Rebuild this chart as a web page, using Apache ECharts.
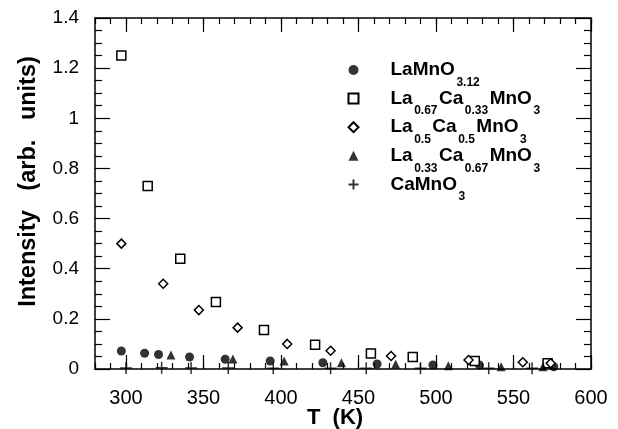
<!DOCTYPE html>
<html>
<head>
<meta charset="utf-8">
<script src="https://cdn.jsdelivr.net/npm/echarts@6/dist/echarts.min.js"></script>
<style>
html,body{margin:0;padding:0;background:#fff;}
#chart{width:618px;height:429px;}
</style>
</head>
<body>
<div id="chart"></div>
<script>
// ---- data ----
const xMajorTicks = [300, 350, 400, 450, 500, 550, 600];
const yTickStep = 0.2;

const seriesNames = ['LaMnO3.12', 'La0.67Ca0.33MnO3', 'La0.5Ca0.5MnO3', 'La0.33Ca0.67MnO3', 'CaMnO3'];

const tLaMnO3 = [297, 312, 321, 341, 364, 393, 427, 462, 498, 528, 576];
const iLaMnO3 = [0.072, 0.063, 0.058, 0.048, 0.039, 0.032, 0.025, 0.020, 0.016, 0.016, 0.009];

const tLa067 = [297, 314, 335, 358, 389, 422, 458, 485, 525, 572];
const iLa067 = [1.25, 0.73, 0.44, 0.267, 0.156, 0.097, 0.062, 0.048, 0.032, 0.023];

const tLa05 = [297, 324, 347, 372, 404, 432, 471, 521, 556, 574];
const iLa05 = [0.50, 0.34, 0.235, 0.165, 0.100, 0.073, 0.052, 0.036, 0.027, 0.023];

const tLa033 = [329, 369, 402, 439, 474, 508, 542, 569];
const iLa033 = [0.056, 0.040, 0.032, 0.025, 0.019, 0.013, 0.009, 0.009];

const tCaMnO3 = [300, 323, 342, 366, 395, 432, 455, 490, 534, 562];
const iCaMnO3 = [0.004, 0.005, 0.004, 0.004, 0.003, 0.003, 0.003, 0.003, 0.003, 0.003];

// ---- chart ----
const FONT = "'Liberation Sans', Arial, Helvetica, sans-serif";
const BLACK = '#000';
const pair = (xs, ys) => xs.map((x, i) => [x, ys[i]]);

const legendRich = {
  g: { width: 27 },
  m: { fontFamily: FONT, fontWeight: 'bold', fontSize: 19, color: BLACK, lineHeight: 19 },
  s: { fontFamily: FONT, fontWeight: 'bold', fontSize: 12, color: BLACK, lineHeight: 19, padding: [25, 1.5, 0, 1.5] }
};
const legendLabels = {
  'LaMnO3.12': '{g| }{m|LaMnO}{s|3.12}',
  'La0.67Ca0.33MnO3': '{g| }{m|La}{s|0.67}{m|Ca}{s|0.33}{m|MnO}{s|3}',
  'La0.5Ca0.5MnO3': '{g| }{m|La}{s|0.5}{m|Ca}{s|0.5}{m|MnO}{s|3}',
  'La0.33Ca0.67MnO3': '{g| }{m|La}{s|0.33}{m|Ca}{s|0.67}{m|MnO}{s|3}',
  'CaMnO3': '{g| }{m|CaMnO}{s|3}'
};

const axisLineStyle = { color: BLACK, width: 1.5 };
const tickLine = { color: BLACK, width: 1.2 };
const xBase = { type: 'value', gridIndex: 0, min: 280, max: 600, splitLine: { show: false } };

const chart = echarts.init(document.getElementById('chart'), null, { renderer: 'canvas' });
chart.setOption({
  backgroundColor: '#fff',
  animation: false,
  grid: { left: 95, right: 27, top: 18, bottom: 60, containLabel: false, outerBoundsMode: 'none' },
  legend: {
    orient: 'vertical',
    left: 346,
    top: 51.5,
    padding: 0,
    itemWidth: 10,
    itemHeight: 10,
    itemGap: -8.4,
    symbolKeepAspect: true,
    data: seriesNames,
    formatter: (name) => legendLabels[name],
    textStyle: { rich: legendRich, fontFamily: FONT },
    selectedMode: false
  },
  xAxis: [
    Object.assign({}, xBase, {
      position: 'bottom', interval: 10,
      axisLine: { show: true, onZero: false, lineStyle: axisLineStyle },
      axisTick: { show: true, inside: true, length: 6, lineStyle: tickLine },
      axisLabel: { customValues: xMajorTicks, fontFamily: FONT, fontSize: 20, color: BLACK, margin: 19 },
      name: 'T  (K)', nameLocation: 'middle', nameGap: 38, nameMoveOverlap: false,
      nameTextStyle: { fontFamily: FONT, fontWeight: 'bold', fontSize: 22, color: BLACK, padding: [0, 16, 0, 0] }
    }),
    Object.assign({}, xBase, {
      position: 'bottom',
      axisLine: { show: false, onZero: false },
      axisTick: { show: true, inside: true, length: 14, customValues: xMajorTicks, lineStyle: tickLine },
      axisLabel: { show: false }
    }),
    Object.assign({}, xBase, {
      position: 'top', interval: 10,
      axisLine: { show: true, onZero: false, lineStyle: axisLineStyle },
      axisTick: { show: true, inside: true, length: 6, lineStyle: tickLine },
      axisLabel: { show: false }
    }),
    Object.assign({}, xBase, {
      position: 'top',
      axisLine: { show: false, onZero: false },
      axisTick: { show: true, inside: true, length: 14, customValues: xMajorTicks, lineStyle: tickLine },
      axisLabel: { show: false }
    })
  ],
  yAxis: [
    {
      type: 'value', position: 'left', min: 0, max: 1.4, interval: yTickStep,
      splitLine: { show: false },
      axisLine: { show: true, onZero: false, lineStyle: axisLineStyle },
      axisTick: { show: true, inside: true, length: 15, lineStyle: tickLine },
      minorTick: { show: true, splitNumber: 4, length: 7, lineStyle: tickLine },
      axisLabel: { fontFamily: FONT, fontSize: 19, color: BLACK, margin: 16 },
      name: 'Intensity   (arb.   units)', nameLocation: 'middle', nameGap: 54, nameMoveOverlap: false,
      nameTextStyle: { fontFamily: FONT, fontWeight: 'bold', fontSize: 23.5, color: BLACK, padding: [0, 0, 0, 24] }
    },
    {
      type: 'value', position: 'right', min: 0, max: 1.4, interval: yTickStep,
      splitLine: { show: false },
      axisLine: { show: true, onZero: false, lineStyle: axisLineStyle },
      axisTick: { show: true, inside: true, length: 15, lineStyle: tickLine },
      minorTick: { show: true, splitNumber: 4, length: 7, lineStyle: tickLine },
      axisLabel: { show: false }
    }
  ],
  series: [
    {
      name: seriesNames[0], type: 'scatter', xAxisIndex: 0, yAxisIndex: 0,
      symbol: 'circle', symbolSize: 9,
      itemStyle: { color: BLACK },
      data: pair(tLaMnO3, iLaMnO3)
    },
    {
      name: seriesNames[1], type: 'scatter', xAxisIndex: 0, yAxisIndex: 0,
      symbol: 'rect', symbolSize: 9,
      itemStyle: { color: '#fff', borderColor: BLACK, borderWidth: 1.5, opacity: 1 },
      data: pair(tLa067, iLa067)
    },
    {
      name: seriesNames[2], type: 'scatter', xAxisIndex: 0, yAxisIndex: 0,
      symbol: 'diamond', symbolSize: 9,
      itemStyle: { color: '#fff', borderColor: BLACK, borderWidth: 1.5, opacity: 1 },
      data: pair(tLa05, iLa05)
    },
    {
      name: seriesNames[3], type: 'scatter', xAxisIndex: 0, yAxisIndex: 0,
      symbol: 'triangle', symbolSize: 9,
      itemStyle: { color: BLACK },
      data: pair(tLa033, iLa033)
    },
    {
      name: seriesNames[4], type: 'scatter', xAxisIndex: 0, yAxisIndex: 0,
      symbol: 'path://M0,5L10,5M5,0L5,10', symbolSize: 12,
      itemStyle: { color: 'none', borderColor: BLACK, borderWidth: 1.5 },
      data: pair(tCaMnO3, iCaMnO3)
    }
  ]
});
</script>
</body>
</html>
